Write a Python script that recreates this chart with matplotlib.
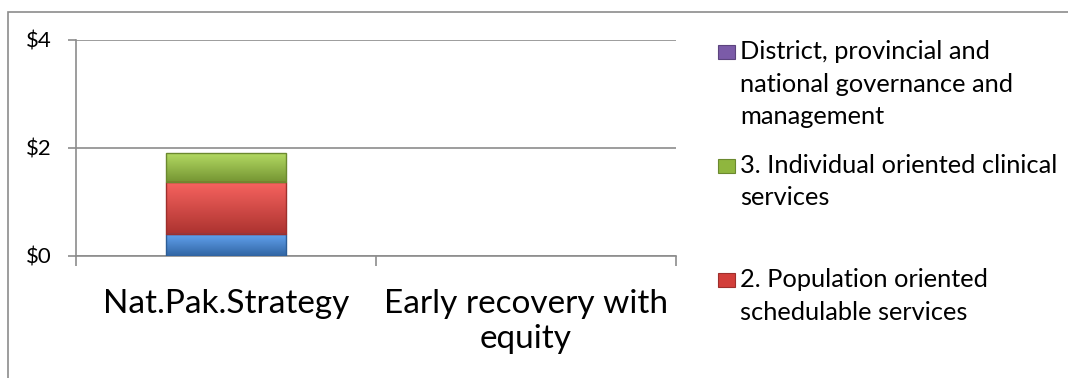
import numpy as np
import matplotlib
matplotlib.use("Agg")
import matplotlib.pyplot as plt
from matplotlib.patches import Rectangle
from matplotlib.colors import to_rgb
from matplotlib.transforms import blended_transform_factory

plt.rcParams['font.family'] = ['Lato', 'DejaVu Sans']

categories = ["Nat.Pak.Strategy", "Early recovery with\nequity"]
series_names = [
    "1. Family-community oriented services",
    "2. Population oriented schedulable services",
    "3. Individual oriented clinical services",
    "District, provincial and national governance and management",
]
family_vals = [0.40, 0.0]
population_vals = [0.97, 0.0]
clinical_vals = [0.54, 0.0]
governance_vals = [0.0, 0.0]
series_values = [family_vals, population_vals, clinical_vals, governance_vals]
series_colors = ["#3c7cc8", "#d23e3a", "#8fb63e", "#7b5ba8"]

y_ticks = [0, 2, 4]
y_tick_labels = ["$0", "$2", "$4"]

legend_entries = [
    ("District, provincial and\nnational governance and\nmanagement", "#7b5ba8"),
    ("3. Individual oriented clinical\nservices", "#8fb63e"),
    ("2. Population oriented\nschedulable services", "#d23e3a"),
]

W, H = 1068, 378
fig = plt.figure(figsize=(W / 100, H / 100), dpi=100)


def px(x, y):
    return x / W, 1 - y / H


# outer chart frame
fig.patches.append(Rectangle(px(8, 500), (W + 20) / W, 488 / H,
                             transform=fig.transFigure, fill=False,
                             edgecolor="#8c8c8c", linewidth=1.2))

ax = fig.add_axes([76 / W, 1 - 256 / H, 600 / W, 216 / H])
x = np.arange(len(categories))
bottom = np.zeros(len(categories))
grad = np.linspace(0, 1, 64).reshape(-1, 1)
for vals, color in zip(series_values, series_colors):
    bars = ax.bar(x, vals, width=0.4, bottom=bottom, color=color,
                  edgecolor="none", zorder=3)
    base = np.array(to_rgb(color))
    for b in bars:
        if b.get_height() <= 0:
            continue
        # shaded bevel: lighter top, darker bottom
        light = np.clip(base + 0.15, 0, 1)
        dark = base * 0.82
        img = light[None, None, :] * (1 - grad[..., None]) + dark[None, None, :] * grad[..., None]
        im = ax.imshow(img, extent=[b.get_x(), b.get_x() + b.get_width(),
                                    b.get_y(), b.get_y() + b.get_height()],
                       aspect="auto", zorder=4, origin="upper")
        im.set_clip_path(b)
        ax.add_patch(Rectangle((b.get_x(), b.get_y()), b.get_width(), b.get_height(),
                               fill=False, edgecolor=tuple(base * 0.75),
                               linewidth=1.0, zorder=5))
    bottom += np.array(vals)

ax.set_xlim(-0.5, len(categories) - 0.5)
ax.set_ylim(0, 4)
ax.set_yticks(y_ticks)
ax.set_yticklabels(y_tick_labels, fontsize=16)
ax.yaxis.grid(True, color="#8c8c8c", linewidth=1.2, zorder=0)
ax.set_axisbelow(True)
for s in ["top", "right"]:
    ax.spines[s].set_visible(False)
for s in ["left", "bottom"]:
    ax.spines[s].set_color("#8c8c8c")
    ax.spines[s].set_linewidth(1.2)
ax.tick_params(axis="y", length=5.8, width=1.2, color="#8c8c8c", pad=12)

# category boundaries carry the tick marks; labels sit under the centres
ax.set_xticks(np.arange(len(categories) + 1) - 0.5)
ax.set_xticklabels([])
ax.tick_params(axis="x", length=7.5, width=1.2, color="#8c8c8c")
cat_tr = blended_transform_factory(ax.transData, fig.transFigure)
for xi, cat in zip(x, categories):
    for i, line in enumerate(cat.split("\n")):
        ax.text(xi, px(0, 313 + 35 * i)[1], line, transform=cat_tr,
                ha="center", va="baseline", fontsize=24)

# legend
first_baselines = [59, 173, 287]
for (label, color), yb in zip(legend_entries, first_baselines):
    fig.patches.append(Rectangle(px(718, yb), 17 / W, 14 / H,
                                 transform=fig.transFigure,
                                 facecolor=color, edgecolor=tuple(np.array(to_rgb(color)) * 0.75),
                                 linewidth=0.8))
    for i, line in enumerate(label.split("\n")):
        fig.text(*px(740, yb + 32.5 * i), line, fontsize=18.3,
                 va="baseline", ha="left")

fig.savefig("out.png", dpi=100)
